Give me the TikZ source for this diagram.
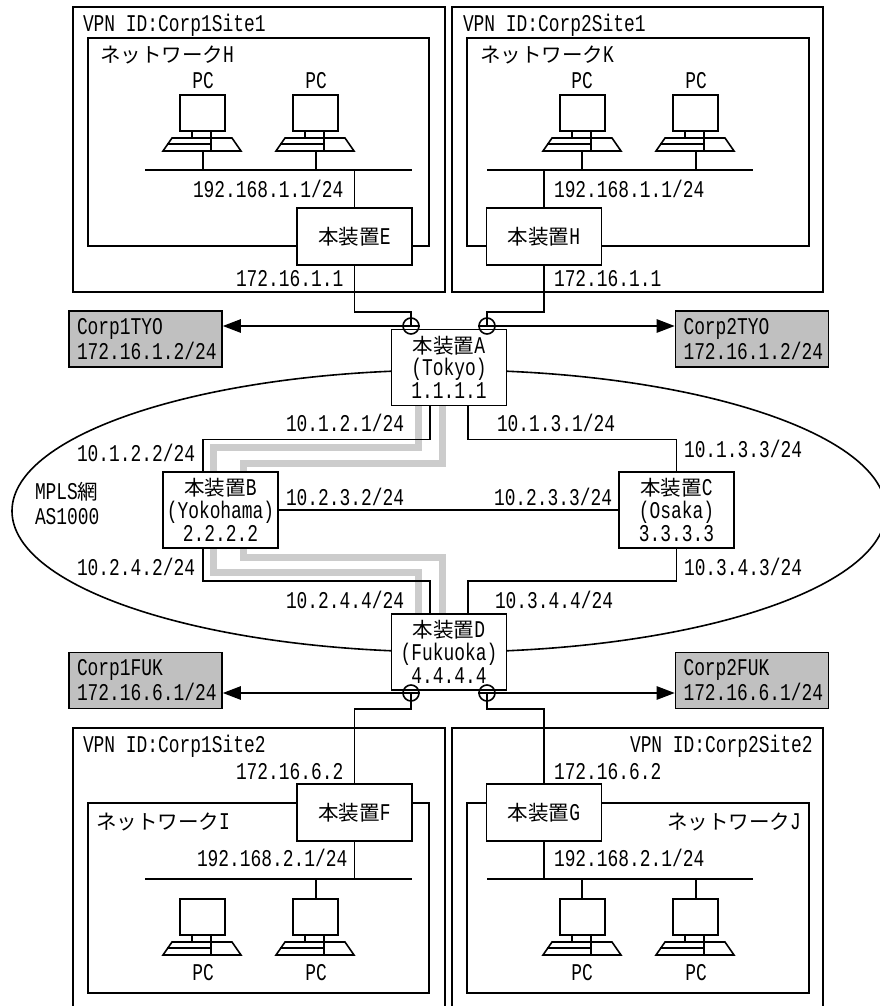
\documentclass[tikz,border=0pt]{standalone}
\usepackage{fontspec}
\usetikzlibrary{arrows.meta,shapes.geometric}
\setmainfont[FakeStretch=0.746]{Liberation Mono}
\newfontfamily\jpfont{Noto Sans CJK JP}
\newcommand{\jtxt}[1]{{\jpfont\fontsize{15.4}{17.25}\selectfont #1}}
\pgfdeclarelayer{bg}
\pgfsetlayers{bg,main}
\tikzset{
  every node/.style={font=\fontsize{18}{17.4}\selectfont},
  ln/.style={line width=1.2pt},
  lbl/.style={anchor=base west,inner sep=0pt,outer sep=0pt},
  ctr/.style={anchor=base,inner sep=0pt,outer sep=0pt},
  dev/.style={draw,ln,fill=white,minimum width=86pt,minimum height=57.2pt,inner sep=0pt,align=center},
  devs/.style={draw,ln,fill=white,minimum width=86pt,minimum height=42.75pt,inner sep=0pt},
  corp/.style={draw,ln,fill=corpgray,font=\fontsize{18}{18.75}\selectfont,minimum width=114.75pt,minimum height=42pt,inner xsep=0pt,inner ysep=0pt,text width=102.75pt,align=left},
  port/.style={draw,ln,circle,minimum size=12pt,inner sep=0pt},
  grayrt/.style={line width=5.25pt,draw=routegray},
  tip/.style={-{Triangle[length=13.5pt,width=10pt]},ln},
  pc/.pic={
    \draw[ln] (0,0) rectangle (45,36);
    \draw[ln] (12,36) -- (12,43) (31,36) -- (31,56);
    \draw[ln] (-8,43) -- (52,43) -- (61,56) -- (-17,56) -- cycle;
    \draw[ln] (-13,49) -- (31,49);
  }
}
\definecolor{corpgray}{HTML}{C0C0C0}
\definecolor{routegray}{HTML}{CCCCCC}
\begin{document}
\begin{tikzpicture}[x=0.75pt,y=-0.75pt]
\useasboundingbox (0,0) rectangle (879,1006);
% routers
\node[dev] (A) at (449,367.5) {\raisebox{-0.75pt}{\jtxt{本装置}A}\\(Tokyo)\\1.1.1.1};
\node[dev] (D) at (449,652) {\raisebox{-0.75pt}{\jtxt{本装置}D}\\(Fukuoka)\\4.4.4.4};
\node[dev] (B) at (220.5,510) {\raisebox{-0.75pt}{\jtxt{本装置}B}\\(Yokohama)\\2.2.2.2};
\node[dev] (C) at (676.5,510) {\raisebox{-0.75pt}{\jtxt{本装置}C}\\(Osaka)\\3.3.3.3};
\node[devs] (E) at (354.5,236.5) {\jtxt{本装置}E};
\node[devs] (H) at (544,236.5) {\jtxt{本装置}H};
\node[devs] (F) at (354.5,812.5) {\jtxt{本装置}F};
\node[devs] (G) at (544,812.5) {\jtxt{本装置}G};
% gray boxes
\node[corp] (c1t) at (145.5,339) {Corp1TYO\\172.16.1.2/24};
\node[corp] (c2t) at (752,339) {Corp2TYO\\172.16.1.2/24};
\node[corp] (c1f) at (145.5,680.5) {Corp1FUK\\172.16.6.1/24};
\node[corp] (c2f) at (752,680.5) {Corp2FUK\\172.16.6.1/24};
% ports
\node[port] (a1) at (411,326) {};
\node[port] (a2) at (487,326) {};
\node[port] (d1) at (411,693) {};
\node[port] (d2) at (487,693) {};
\begin{pgfonlayer}{bg}
  \fill[white] (0,0) rectangle (879,1006);
  \node[draw,ln,ellipse,minimum width=655.5pt,minimum height=211.5pt,inner sep=0pt] (mpls) at (449,511) {};
  % site frames
  \draw[ln] (73,7) rectangle (445,292);
  \draw[ln] (88,38) rectangle (429,246);
  \draw[ln] (452,7) rectangle (823,292);
  \draw[ln] (467,38) rectangle (809,246);
  \draw[ln] (73,1010) -- (73,728) -- (445,728) -- (445,1010);
  \draw[ln] (88,803) rectangle (429,993);
  \draw[ln] (452,1010) -- (452,728) -- (823,728) -- (823,1010);
  \draw[ln] (467,803) rectangle (809,993);
  % LSP routes
  \draw[grayrt] ([xshift=-22.9pt]A.south) -- ++(0,41) -| ([xshift=-5.6pt]B.north);
  \draw[grayrt] ([xshift=-5.25pt]A.south) -- ++(0,57) -| ([xshift=17.6pt]B.north);
  \draw[grayrt] ([xshift=17.6pt]B.south) -- ++(0,9) -| ([xshift=-5.25pt]D.north);
  \draw[grayrt] ([xshift=-5.6pt]B.south) -- ++(0,24) -| ([xshift=-22.9pt]D.north);
  % backbone links
  \draw[ln] ([xshift=-14.25pt]A.south) -- ++(0,33) -| ([xshift=-13.1pt]B.north);
  \draw[ln] ([xshift=14.25pt]A.south) -- ++(0,33) -| (C.north);
  \draw[ln] ([xshift=-13.1pt]B.south) -- ++(0,32) -| ([xshift=-14.25pt]D.north);
  \draw[ln] (C.south) -- ++(0,32) -| ([xshift=14.25pt]D.north);
  \draw[ln] (B.east) -- (C.west);
  % access links
  \draw[ln] (E.south) -- ++(0,46) -| (a1.center);
  \draw[ln] (H.south) -- ++(0,46) -| (a2.center);
  \draw[ln] (d1.center) -- ++(0,16) -| (F.north);
  \draw[ln] (d2.center) -- ++(0,16) -| (G.north);
  % buses
  \coordinate (bH) at (145,170); \coordinate (bK) at (487,170);
  \coordinate (bI) at (145,879); \coordinate (bJ) at (487,879);
  \draw[ln] (bH) -- (412,170);
  \draw[ln] (bK) -- (753,170);
  \draw[ln] (bI) -- (412,879);
  \draw[ln] (bJ) -- (753,879);
  \draw[ln] (E.north) -- (E.north |- bH);
  \draw[ln] (H.north) -- (H.north |- bK);
  \draw[ln] (F.south) -- (F.south |- bI);
  \draw[ln] (G.south) -- (G.south |- bJ);
  % PC drops
  \draw[ln] (203,151) -- (203 ,170) (316,151) -- (316,170);
  \draw[ln] (582,151) -- (582,170) (696,151) -- (696,170);
  \draw[ln] (316,879) -- (316,899);
  \draw[ln] (582,879) -- (582,899) (696,879) -- (696,899);
\end{pgfonlayer}
% port arrows
\draw[tip] (a1.east) -- (c1t.east |- a1);
\draw[tip] (a2.west) -- (c2t.west |- a2);
\draw[tip] (d1.east) -- (c1f.east |- d1);
\draw[tip] (d2.west) -- (c2f.west |- d2);
% PCs
\pic at (180,95) {pc};
\pic at (293,95) {pc};
\pic at (560,95) {pc};
\pic at (673,95) {pc};
\pic at (180,899) {pc};
\pic at (293,899) {pc};
\pic at (560,899) {pc};
\pic at (673,899) {pc};
% labels
\node[lbl] (t1) at (83,32) {VPN ID:Corp1Site1};
\node[lbl] (t2) at (463,32) {VPN ID:Corp2Site1};
\node[lbl] (t3) at (83,752) {VPN ID:Corp1Site2};
\node[lbl] (t4) at (630,752) {VPN ID:Corp2Site2};
\node[lbl] (n1) at (100,63) {\jtxt{ネットワーク}H};
\node[lbl] (n2) at (480,63) {\jtxt{ネットワーク}K};
\node[lbl] (n3) at (96,829) {\jtxt{ネットワーク}I};
\node[lbl] (n4) at (667,829) {\jtxt{ネットワーク}J};
\node[ctr] (p1) at (203,89) {PC};
\node[ctr] (p2) at (316,89) {PC};
\node[ctr] (p3) at (582,89) {PC};
\node[ctr] (p4) at (696,89) {PC};
\node[ctr] (p5) at (203,980) {PC};
\node[ctr] (p6) at (316,980) {PC};
\node[ctr] (p7) at (582,980) {PC};
\node[ctr] (p8) at (696,980) {PC};
\node[lbl] (i1) at (193,197) {192.168.1.1/24};
\node[lbl] (i2) at (554,197) {192.168.1.1/24};
\node[lbl] (i3) at (197,866) {192.168.2.1/24};
\node[lbl] (i4) at (554,866) {192.168.2.1/24};
\node[lbl] (i5) at (236,286) {172.16.1.1};
\node[lbl] (i6) at (554,286) {172.16.1.1};
\node[lbl] (i7) at (236,779) {172.16.6.2};
\node[lbl] (i8) at (554,779) {172.16.6.2};
\node[lbl] (k1) at (286,431) {10.1.2.1/24};
\node[lbl] (k2) at (497,431) {10.1.3.1/24};
\node[lbl] (k3) at (77,461) {10.1.2.2/24};
\node[lbl] (k4) at (684,457) {10.1.3.3/24};
\node[lbl] (k5) at (286,505) {10.2.3.2/24};
\node[lbl] (k6) at (494,505) {10.2.3.3/24};
\node[lbl] (k7) at (77,575) {10.2.4.2/24};
\node[lbl] (k8) at (684,575) {10.3.4.3/24};
\node[lbl] (k9) at (286,608) {10.2.4.4/24};
\node[lbl] (k10) at (495,608) {10.3.4.4/24};
\node[lbl] (m1) at (35,499) {MPLS\jtxt{網}};
\node[lbl] (m2) at (35,524) {AS1000};
\end{tikzpicture}
\end{document}
